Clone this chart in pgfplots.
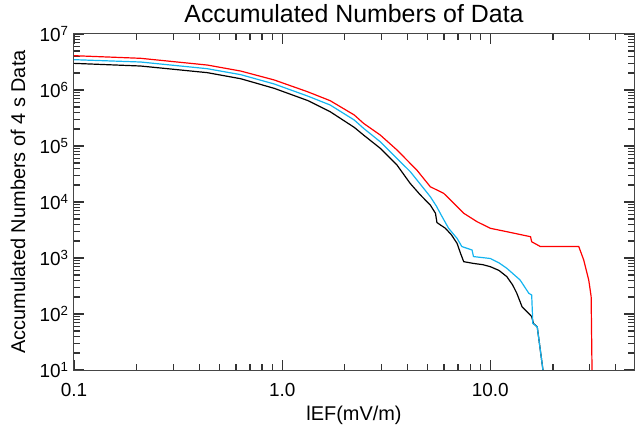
\documentclass[border=0pt]{standalone}
\usepackage{fontspec}
\setmainfont{Liberation Sans}
\usepackage{pgfplots}
\pgfplotsset{compat=1.18}
\definecolor{mycyan}{RGB}{20,180,240}
\definecolor{axgray}{RGB}{70,70,70}
\begin{document}
\begin{tikzpicture}
\begin{axis}[
  at={(0,0)}, anchor=south west,
  scale only axis, width=560bp, height=336bp,
  xmode=log, ymode=log,
  xmin=0.1, xmax=49, ymin=10, ymax=1e7,
  xtick={0.1,1,10}, xticklabels={0.1,1.0,10.0},
  minor xtick={0.2,0.3,0.4,0.5,0.6,0.7,0.8,0.9,2,3,4,5,6,7,8,9,20,30,40},
  ytick={10,100,1000,10000,100000,1000000,10000000},
  yticklabels={10\textsuperscript{1},10\textsuperscript{2},10\textsuperscript{3},10\textsuperscript{4},10\textsuperscript{5},10\textsuperscript{6},10\textsuperscript{7}},
  minor ytick={20,30,40,50,60,70,80,90,200,300,400,500,600,700,800,900,
    2000,3000,4000,5000,6000,7000,8000,9000,20000,30000,40000,50000,60000,70000,80000,90000,
    200000,300000,400000,500000,600000,700000,800000,900000,
    2000000,3000000,4000000,5000000,6000000,7000000,8000000,9000000},
  tick align=inside,
  major tick length=10bp, minor tick length=6bp,
  tick style={black!80, line width=1.3bp},
  axis line style={axgray, line width=1bp},
  ticklabel style={font=\fontsize{19}{22}\selectfont},
  xticklabel style={anchor=base, yshift=-26bp},
  yticklabel style={anchor=east, xshift=-2bp},
  title={Accumulated Numbers of Data},
  title style={font=\fontsize{25}{28}\selectfont, inner sep=0pt, at={(axis description cs:0.5,1)}, anchor=base, yshift=6bp},
  xlabel={lEF(mV/m)},
  xlabel style={font=\fontsize{20}{24}\selectfont, inner sep=0pt, at={(axis description cs:0.5,0)}, anchor=base, yshift=-50bp},
  ylabel={Accumulated Numbers of 4 s Data},
  ylabel style={font=\fontsize{20}{24}\selectfont, inner sep=0pt, at={(axis description cs:-0.1,0.5)}, anchor=center, rotate=0},
]
% black
\addplot[black, line width=1.2bp] coordinates {
(0.1,2.99e6) (0.209,2.68e6) (0.437,2.04e6) (0.632,1.59e6) (0.916,1.07e6) (1.325,6.5e5) (1.70,4.1e5)
(2.22,2.15e5) (2.46,1.57e5) (2.96,9.1e4) (3.56,4.58e4) (4.12,2.15e4) (4.6,1.35e4) (5.15,8.8e3) (5.45,6.3e3)
(5.54,4.3e3) (5.75,3.9e3) (6.08,3.4e3) (6.5,2.6e3) (6.92,1.83e3) (7.2,1.2e3) (7.45,860) (8.3,800) (9.2,760) (10,700)
(11,600) (12,465) (12.8,330) (13.4,235) (14.2,135) (15.0,110) (15.8,90) (16.1,68) (16.8,59) (17.9,10)
};
% cyan
\addplot[mycyan, line width=1.2bp] coordinates {
(0.1,3.48e6) (0.209,3.16e6) (0.437,2.40e6) (0.632,1.88e6) (0.916,1.28e6) (1.325,7.8e5) (1.70,5.4e5)
(2.22,2.91e5) (2.46,2.07e5) (2.96,1.19e5) (3.56,6.0e4) (4.12,3.5e4) (4.6,2.1e4) (5.15,1.24e4) (5.5,8.5e3)
(5.86,5.5e3) (6.3,3.4e3) (6.92,2.24e3) (7.3,1.6e3) (8.17,1.39e3) (8.3,1.06e3) (10,980) (11,820) (12,655)
(13.9,405) (15.3,235) (15.8,218) (16.0,68) (16.8,59) (17.9,10)
};
% red
\addplot[red, line width=1.2bp] coordinates {
(0.1,4.10e6) (0.209,3.68e6) (0.437,2.79e6) (0.632,2.18e6) (0.916,1.51e6) (1.325,9.3e5) (1.70,6.45e5)
(2.22,3.58e5) (2.46,2.54e5) (2.96,1.57e5) (3.56,8.5e4) (4.44,3.7e4) (5.15,1.87e4) (5.97,1.43e4)
(6.92,8.3e3) (7.45,6.3e3) (8.63,4.45e3) (10,3.39e3) (12,2.95e3) (15.6,2.4e3) (15.8,1.95e3)
(17.4,1.6e3) (26.6,1.6e3) (28.1,920) (29.7,405) (30.5,205) (30.8,10)
};
\end{axis}
\path (-74bp,-56bp) rectangle (561bp,370bp);
\end{tikzpicture}
\end{document}
